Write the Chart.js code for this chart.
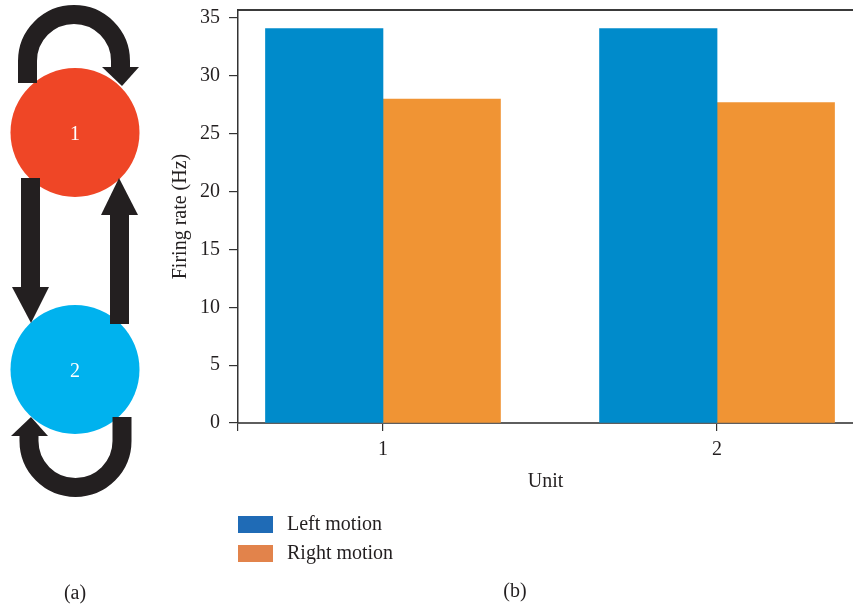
<!DOCTYPE html>
<html>
<head>
<meta charset="utf-8">
<script src="https://cdn.jsdelivr.net/npm/chart.js@4/dist/chart.umd.min.js"></script>
<style>
  html, body { margin: 0; padding: 0; background: #fff; overflow: hidden; }
  #wrap { position: relative; width: 853px; height: 610px; }
  #chart { position: absolute; left: 0; top: 0; }
  #net { position: absolute; left: 0; top: 0; }
  #net text { font-family: "Liberation Serif", "DejaVu Serif", serif; }
</style>
</head>
<body>
<div id="wrap">
  <canvas id="chart" width="853" height="610"></canvas>
  <!-- (a) two-unit network: self-excitation loops and cross connections -->
  <svg id="net" width="160" height="610" viewBox="0 0 160 610">
    <circle cx="75" cy="132.5" r="64.5" fill="#EF4626"/>
    <circle cx="75" cy="369.5" r="64.5" fill="#00B2EE"/>
    <g fill="#231F20" stroke="none">
      <!-- unit 1 self loop -->
      <path d="M 27.5 83 L 27.5 61 A 46.5 46.5 0 0 1 120.5 61 L 120.5 67.5" fill="none" stroke="#231F20" stroke-width="19"/>
      <polygon points="102,67 139,67 122,86"/>
      <!-- 1 -> 2 -->
      <rect x="21" y="178" width="19" height="110"/>
      <polygon points="12,287 49,287 31,323"/>
      <!-- 2 -> 1 -->
      <rect x="110" y="214" width="19" height="110"/>
      <polygon points="101,215 138,215 119,178"/>
      <!-- unit 2 self loop -->
      <path d="M 122 417 L 122 441 A 46.5 46.5 0 0 1 29 441 L 29 435.5" fill="none" stroke="#231F20" stroke-width="19"/>
      <polygon points="11,436 48,436 31,417"/>
    </g>
    <text x="75" y="133" fill="#fff" font-size="20" text-anchor="middle" dominant-baseline="central">1</text>
    <text x="75" y="370" fill="#fff" font-size="20" text-anchor="middle" dominant-baseline="central">2</text>
    <text x="75" y="592" fill="#231F20" font-size="20" text-anchor="middle" dominant-baseline="central">(a)</text>
  </svg>
</div>
<script>
// Mean firing rate of each unit for the two motion directions
const units = [1, 2];
const leftMotion = [34.1, 34.1];
const rightMotion = [28.0, 27.7];
const seriesNames = ['Left motion', 'Right motion'];
const yTickStep = 5;

const SERIF = '"Liberation Serif", "DejaVu Serif", serif';
const FONT_SIZE = 20;
const INK = '#231F20';
const barColors = ['#008BCB', '#F09434'];
const swatchColors = ['#1F6BB6', '#E2834B'];

// x range of the unit axis
const xMin = 0.566, xMax = 2.407;

const toPoints = (vals) => units.map((u, i) => ({ x: u, y: vals[i] }));

// no extra room for tick-label overhang at the plot edges
const noEdgePadding = (s) => { s.paddingTop = 0; s.paddingBottom = 0; s.paddingLeft = 0; s.paddingRight = 0; };

// Legend stacked under the plot plus the panel tag
const sideLegend = {
  id: 'sideLegend',
  afterDraw(chart) {
    const ctx = chart.ctx;
    const left = chart.chartArea.left;
    ctx.save();
    ctx.font = FONT_SIZE + 'px ' + SERIF;
    ctx.textBaseline = 'middle';
    chart.data.datasets.forEach((ds, i) => {
      const y = 516 + i * 29;
      ctx.fillStyle = swatchColors[i];
      ctx.fillRect(left, y, 35, 17);
      ctx.fillStyle = INK;
      ctx.textAlign = 'left';
      ctx.fillText(ds.label, left + 49, y + 8.5);
    });
    ctx.textAlign = 'center';
    ctx.fillText('(b)', 515, 592);
    ctx.restore();
  }
};

new Chart(document.getElementById('chart'), {
  type: 'bar',
  data: {
    datasets: [
      { label: seriesNames[0], data: toPoints(leftMotion), backgroundColor: barColors[0] },
      { label: seriesNames[1], data: toPoints(rightMotion), backgroundColor: barColors[1] }
    ]
  },
  plugins: [sideLegend],
  options: {
    responsive: false,
    animation: false,
    devicePixelRatio: 1,
    barThickness: 117.5,
    layout: { padding: { top: 10, left: 0, right: 0, bottom: 107 } },
    plugins: { legend: { display: false }, tooltip: { enabled: false } },
    scales: {
      x: {
        type: 'linear',
        position: 'bottom',
        offset: false,
        min: xMin,
        max: xMax,
        afterBuildTicks: (s) => { s.ticks = [xMin, ...units].map(v => ({ value: v })); },
        afterFit: (s) => { s.height = 80; noEdgePadding(s); },
        ticks: {
          padding: 7,
          color: INK,
          font: { family: SERIF, size: FONT_SIZE },
          callback: (v) => (units.includes(v) ? String(v) : '')
        },
        grid: { offset: false, drawOnChartArea: false, drawTicks: true, tickLength: 8, color: '#333', lineWidth: 1.2 },
        border: { display: true, color: '#5E5E5E', width: 2 },
        title: {
          display: true, text: 'Unit', color: INK,
          font: { family: SERIF, size: FONT_SIZE },
          padding: { top: 0, bottom: 9 }
        }
      },
      xTop: {
        type: 'linear',
        position: 'top',
        offset: false,
        min: xMin,
        max: xMax,
        afterFit: (s) => { s.height = 0; noEdgePadding(s); },
        ticks: { display: false },
        grid: { display: true, offset: false, drawOnChartArea: false, drawTicks: false },
        border: { display: true, color: '#3A3A3A', width: 2 }
      },
      y: {
        min: 0,
        max: 35.7,
        afterFit: (s) => { s.width = 238; noEdgePadding(s); },
        ticks: {
          stepSize: yTickStep,
          includeBounds: false,
          padding: 9,
          color: INK,
          font: { family: SERIF, size: FONT_SIZE }
        },
        grid: { drawOnChartArea: false, drawTicks: true, tickLength: 9, color: '#333', lineWidth: 1.2 },
        border: { display: true, color: '#333', width: 1.5 },
        title: {
          display: true, text: 'Firing rate (Hz)', color: INK,
          font: { family: SERIF, size: FONT_SIZE },
          padding: { top: 169, bottom: 0 }
        }
      }
    }
  }
});
</script>
</body>
</html>
